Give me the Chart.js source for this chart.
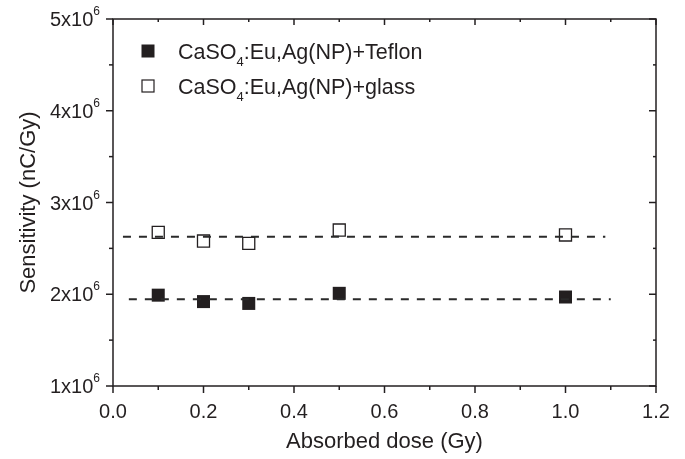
<!DOCTYPE html>
<html>
<head>
<meta charset="utf-8">
<script src="https://cdn.jsdelivr.net/npm/chart.js@4.4.0/dist/chart.umd.min.js"></script>
<style>
  html, body { margin: 0; padding: 0; background: #fff; }
</style>
</head>
<body>
<canvas id="myChart" width="685" height="459"></canvas>
<script>
// data
const doses = [0.1, 0.2, 0.3, 0.5, 1.0];
const teflonValues = [1.99e6, 1.92e6, 1.90e6, 2.01e6, 1.97e6];
const glassValues = [2.675e6, 2.58e6, 2.555e6, 2.70e6, 2.646e6];
const teflonMean = 1.945e6;
const glassMean = 2.627e6;
const teflonFitRange = [0.035, 1.10];
const glassFitRange = [0.022, 1.088];

const xMajorTicks = [0, 0.2, 0.4, 0.6, 0.8, 1.0, 1.2];
const xMinorTicks = [0.1, 0.3, 0.5, 0.7, 0.9, 1.1];
const yMajorTicks = [1e6, 2e6, 3e6, 4e6, 5e6];
const yMinorTicks = [1.5e6, 2.5e6, 3.5e6, 4.5e6];
const yTickMantissa = ['1', '2', '3', '4', '5'];
const yTickExponent = '6';

const seriesNames = [
  ['CaSO', '4', ':Eu,Ag(NP)+Teflon'],
  ['CaSO', '4', ':Eu,Ag(NP)+glass']
];

const ink = '#231f20';
const fontFamily = '"Liberation Sans", Arial, sans-serif';

function pts(xs, ys) {
  return xs.map((x, i) => ({ x: x, y: ys[i] }));
}

// kader, tikler, y etiketleri ve lejant
const axesPlugin = {
  id: 'originAxes',
  afterDraw(chart) {
    const ctx = chart.ctx;
    const a = chart.chartArea;
    const xs = chart.scales.x;
    const ys = chart.scales.y;
    ctx.save();
    ctx.strokeStyle = ink;
    ctx.lineWidth = 1.5;
    ctx.strokeRect(a.left, a.top, a.right - a.left, a.bottom - a.top);

    function vTick(x, y0, len) {
      ctx.beginPath(); ctx.moveTo(x, y0); ctx.lineTo(x, y0 + len); ctx.stroke();
    }
    function hTick(y, x0, len) {
      ctx.beginPath(); ctx.moveTo(x0, y); ctx.lineTo(x0 + len, y); ctx.stroke();
    }
    xMajorTicks.forEach(v => {
      const px = xs.getPixelForValue(v);
      vTick(px, a.bottom, 7);
      vTick(px, a.top, 6);
    });
    xMinorTicks.forEach(v => {
      const px = xs.getPixelForValue(v);
      vTick(px, a.bottom, 4);
      vTick(px, a.top, 3);
    });
    yMajorTicks.forEach(v => {
      const py = ys.getPixelForValue(v);
      hTick(py, a.left, -7);
      hTick(py, a.right, -7);
    });
    yMinorTicks.forEach(v => {
      const py = ys.getPixelForValue(v);
      hTick(py, a.left, -4);
      hTick(py, a.right, -3);
    });

    // y tick labels: Nx10^6
    ctx.fillStyle = ink;
    ctx.textBaseline = 'alphabetic';
    yMajorTicks.forEach((v, i) => {
      const py = ys.getPixelForValue(v);
      ctx.font = '12px ' + fontFamily;
      const supW = ctx.measureText(yTickExponent).width;
      const right = a.left - 13;
      ctx.textAlign = 'left';
      ctx.fillText(yTickExponent, right - supW, py - 4);
      ctx.font = '20px ' + fontFamily;
      ctx.textAlign = 'right';
      ctx.fillText(yTickMantissa[i] + 'x10', right - supW, py + 7);
    });

    // legend
    const legendRows = [
      { y: 51, filled: true },
      { y: 86, filled: false }
    ];
    legendRows.forEach((row, i) => {
      const cx = 148;
      if (row.filled) {
        ctx.fillStyle = ink;
        ctx.fillRect(cx - 6.5, row.y - 6.5, 13, 13);
      } else {
        ctx.lineWidth = 1.2;
        ctx.strokeRect(cx - 6, row.y - 6, 12, 12);
      }
      const parts = seriesNames[i];
      let tx = 178;
      const base = row.y + 8;
      ctx.fillStyle = ink;
      ctx.textAlign = 'left';
      ctx.font = '21.5px ' + fontFamily;
      ctx.fillText(parts[0], tx, base);
      tx += ctx.measureText(parts[0]).width;
      ctx.font = '13px ' + fontFamily;
      ctx.fillText(parts[1], tx, base + 7);
      tx += ctx.measureText(parts[1]).width;
      ctx.font = '21.5px ' + fontFamily;
      ctx.fillText(parts[2], tx, base);
    });
    ctx.restore();
  }
};

const ctx = document.getElementById('myChart').getContext('2d');
new Chart(ctx, {
  type: 'scatter',
  data: {
    datasets: [
      {
        label: 'Teflon fit',
        type: 'line',
        data: pts(teflonFitRange, [teflonMean, teflonMean]),
        borderColor: '#2a2a2a',
        borderWidth: 2,
        borderDash: [8, 8],
        pointRadius: 0,
        fill: false,
        order: 0
      },
      {
        label: 'glass fit',
        type: 'line',
        data: pts(glassFitRange, [glassMean, glassMean]),
        borderColor: '#2a2a2a',
        borderWidth: 2,
        borderDash: [8, 8],
        pointRadius: 0,
        fill: false,
        order: 0
      },
      {
        label: 'CaSO4:Eu,Ag(NP)+Teflon',
        data: pts(doses, teflonValues),
        pointStyle: 'rect',
        pointRadius: 9.2,
        backgroundColor: ink,
        borderColor: ink,
        borderWidth: 0,
        order: 1
      },
      {
        label: 'CaSO4:Eu,Ag(NP)+glass',
        data: pts(doses, glassValues),
        pointStyle: 'rect',
        pointRadius: 8.5,
        backgroundColor: '#ffffff',
        borderColor: ink,
        borderWidth: 1.3,
        order: 1
      }
    ]
  },
  options: {
    responsive: false,
    animation: false,
    events: [],
    layout: { padding: { left: 0, top: 19, right: 29, bottom: 0 } },
    plugins: {
      legend: { display: false },
      tooltip: { enabled: false }
    },
    scales: {
      x: {
        type: 'linear',
        min: 0,
        max: 1.2,
        afterFit: s => { s.height = 73; },
        afterBuildTicks: s => { s.ticks = xMajorTicks.map(v => ({ value: v })); },
        grid: { display: false },
        border: { display: false },
        ticks: {
          color: ink,
          font: { family: fontFamily, size: 20 },
          padding: 6,
          maxRotation: 0,
          callback: v => v.toFixed(1)
        },
        title: {
          display: true,
          text: 'Absorbed dose (Gy)',
          color: ink,
          font: { family: fontFamily, size: 22 },
          padding: { top: 0, bottom: 4 }
        }
      },
      y: {
        type: 'linear',
        min: 1e6,
        max: 5e6,
        afterFit: s => { s.width = 113; },
        grid: { display: false },
        border: { display: false },
        ticks: { display: false },
        title: {
          display: true,
          text: 'Sensitivity (nC/Gy)',
          color: ink,
          font: { family: fontFamily, size: 22 },
          padding: { top: 16, bottom: 0 }
        }
      }
    }
  },
  plugins: [axesPlugin]
});
</script>
</body>
</html>
